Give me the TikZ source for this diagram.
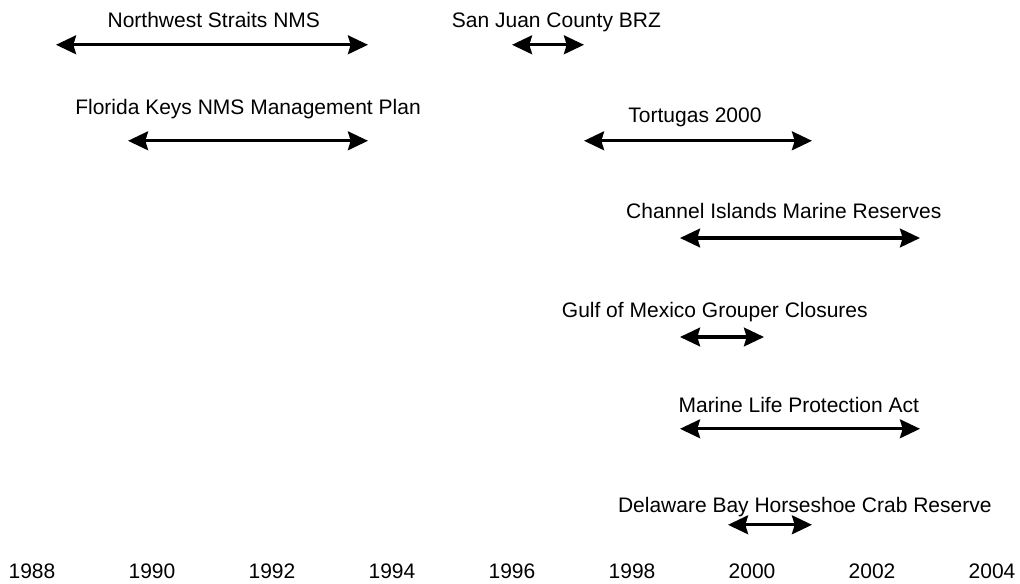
\documentclass[tikz,border=0pt]{standalone}
\usepackage{fontspec}
\setmainfont{Liberation Sans}
\usetikzlibrary{arrows.meta}

\begin{document}
\begin{tikzpicture}[
    x=45pt, y=45pt,
    event/.style={font=\fontsize{15.75}{18}\selectfont, anchor=base, inner sep=0pt},
    yearlbl/.style={font=\fontsize{15.75}{18}\selectfont, anchor=base, inner sep=0pt},
    period/.style={{Stealth[length=15pt,width=14pt,inset=2pt]}-{Stealth[length=15pt,width=14pt,inset=2pt]}, line width=2.5pt}
]
\useasboundingbox (-0.5333,0) rectangle (16.4667,9.7167);

% Years along the bottom
\foreach \yr [count=\i from 0] in {1988,1990,...,2004}
    \node[yearlbl] (y\yr) at (2*\i,0.08) {\yr};

% Northwest Straits NMS
\node[event] (nws) at (3.03,9.25) {Northwest Straits NMS};
\coordinate (nws-a) at (0.4,8.97);
\coordinate (nws-b) at (5.6,8.97);
\draw[period] (nws-a) -- (nws-b);

% San Juan County BRZ
\node[event] (sjc) at (8.74,9.25) {San Juan County BRZ};
\coordinate (sjc-a) at (8.0,8.97);
\coordinate (sjc-b) at (9.2,8.97);
\draw[period] (sjc-a) -- (sjc-b);

% Florida Keys NMS Management Plan
\node[event] (fkm) at (3.6,7.8) {Florida Keys NMS Management Plan};
\coordinate (fkm-a) at (1.6,7.37);
\coordinate (fkm-b) at (5.6,7.37);
\draw[period] (fkm-a) -- (fkm-b);

% Tortugas 2000
\node[event] (tor) at (11.05,7.68) {Tortugas 2000};
\coordinate (tor-a) at (9.2,7.37);
\coordinate (tor-b) at (13.0,7.37);
\draw[period] (tor-a) -- (tor-b);

% Channel Islands Marine Reserves
\node[event] (cimr) at (12.53,6.07) {Channel Islands Marine Reserves};
\coordinate (cimr-a) at (10.8,5.75);
\coordinate (cimr-b) at (14.8,5.75);
\draw[period] (cimr-a) -- (cimr-b);

% Gulf of Mexico Grouper Closures
\node[event] (gmg) at (11.38,4.43) {Gulf of Mexico Grouper Closures};
\coordinate (gmg-a) at (10.8,4.1);
\coordinate (gmg-b) at (12.2,4.1);
\draw[period] (gmg-a) -- (gmg-b);

% Marine Life Protection Act
\node[event] (mlpa) at (12.78,2.85) {Marine Life Protection Act};
\coordinate (mlpa-a) at (10.8,2.57);
\coordinate (mlpa-b) at (14.8,2.57);
\draw[period] (mlpa-a) -- (mlpa-b);

% Delaware Bay Horseshoe Crab Reserve
\node[event] (dbh) at (12.88,1.18) {Delaware Bay Horseshoe Crab Reserve};
\coordinate (dbh-a) at (11.6,0.97);
\coordinate (dbh-b) at (13.0,0.97);
\draw[period] (dbh-a) -- (dbh-b);

\end{tikzpicture}
\end{document}
